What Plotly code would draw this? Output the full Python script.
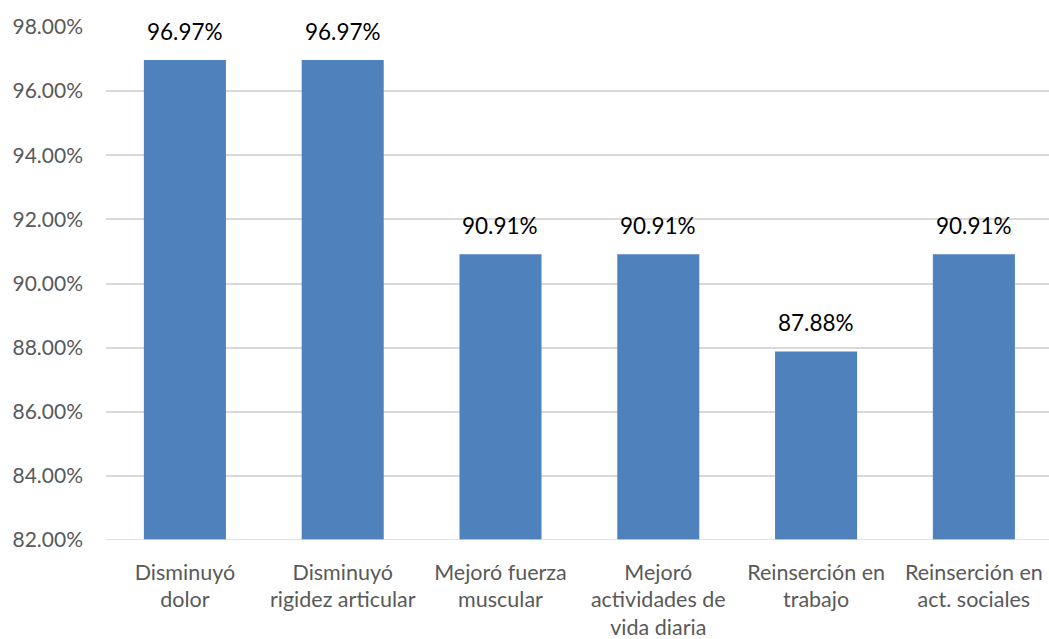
import plotly.graph_objects as go

categories = ["Disminuyó<br>dolor", "Disminuyó<br>rigidez articular", "Mejoró fuerza<br>muscular",
              "Mejoró<br>actividades de<br>vida diaria", "Reinserción en<br>trabajo", "Reinserción en<br>act. sociales"]
values = [96.97, 96.97, 90.91, 90.91, 87.88, 90.91]
labels = [f"{v:.2f}%" for v in values]
y_ticks = [82, 84, 86, 88, 90, 92, 94, 96, 98]

x_pos = list(range(len(categories)))

fig = go.Figure(go.Bar(
    x=x_pos, y=values, base=0,
    marker=dict(color="#4F81BD", line=dict(width=0)),
    width=0.52,
))

for xp, v, lab in zip(x_pos, values, labels):
    fig.add_annotation(x=xp, y=v, text=lab, showarrow=False, yanchor="bottom",
                       yshift=13, font=dict(size=22.5, color="#000000", family="Lato"))

fig.update_layout(
    width=1049, height=639,
    margin=dict(l=106, r=0, t=27, b=99),
    paper_bgcolor="white", plot_bgcolor="white",
    font=dict(family="Lato", color="#595959", size=21),
    showlegend=False,
    xaxis=dict(range=[-0.5, 5.476], tickmode="array",
               tickvals=x_pos, ticktext=categories, automargin=False,
               showgrid=False, showline=False, ticks="", zeroline=False,
               ticklabelstandoff=17,
               tickfont=dict(size=21.5, color="#595959")),
    yaxis=dict(range=[82, 98], tickmode="array", tickvals=y_ticks,
               ticktext=[f"{t:.2f}%" for t in y_ticks], automargin=False,
               showgrid=True, gridcolor="#D9D9D9", gridwidth=1.5,
               zeroline=False, showline=False, ticks="",
               ticklabelstandoff=22,
               tickfont=dict(size=21, color="#595959")),
)
fig.add_shape(type="line", xref="paper", yref="y", x0=0, x1=1, y0=82, y1=82,
              line=dict(color="#D9D9D9", width=1.5))

fig.write_html("out.html", config={"displayModeBar": False},
               post_script="document.body.style.margin='0';document.body.style.overflow='hidden';")
